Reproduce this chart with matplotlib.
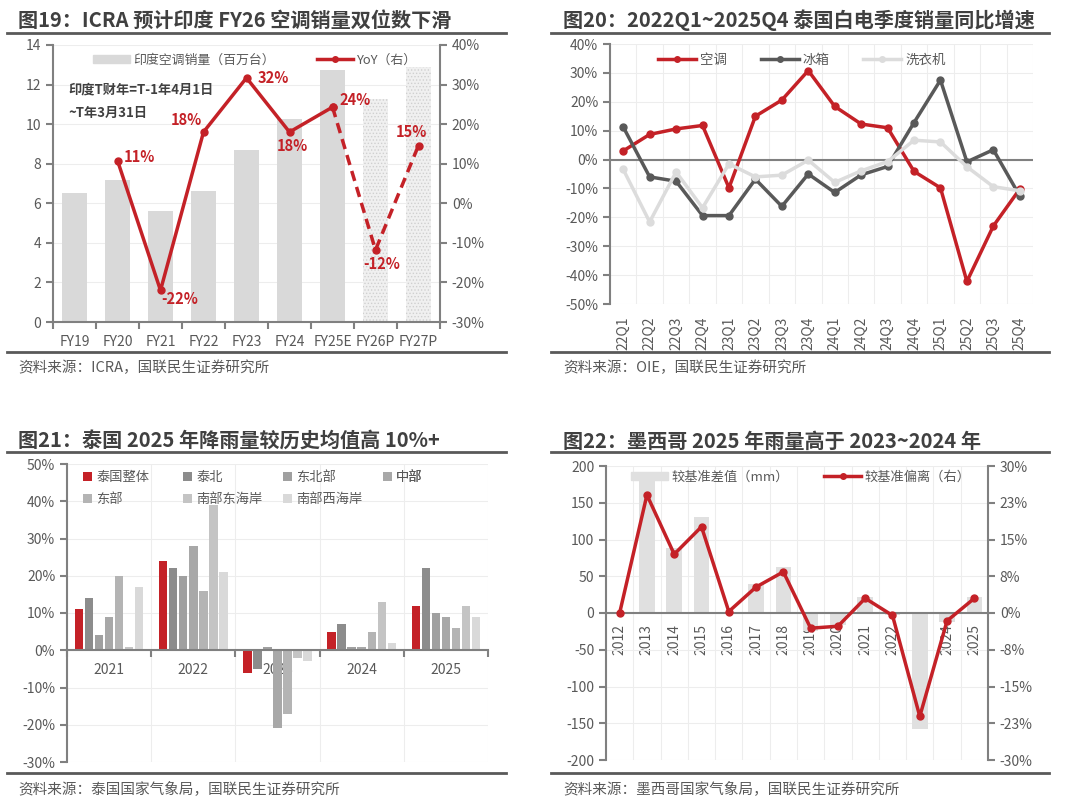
import numpy as np
import matplotlib
matplotlib.use('Agg')
import matplotlib.pyplot as plt
from matplotlib.lines import Line2D
from matplotlib.patches import Patch
from matplotlib.ticker import FuncFormatter

plt.rcParams['font.family'] = ['Noto Sans CJK SC', 'DejaVu Sans']
plt.rcParams['axes.unicode_minus'] = False
plt.rcParams['hatch.linewidth'] = 0.6

W, H = 1080, 806
RED = '#C42127'
TXT = '#595959'
AXC = '#808080'
GRID = '#EDEDED'
TITLE = '#404040'

# 图19 data
fy = ['FY19', 'FY20', 'FY21', 'FY22', 'FY23', 'FY24', 'FY25E', 'FY26P', 'FY27P']
india_sales = [6.5, 7.2, 5.6, 6.6, 8.7, 10.25, 12.75, 11.25, 12.9]
india_yoy = [np.nan, 10.8, -22.0, 18.0, 31.7, 18.0, 24.3, -11.8, 14.6]

# 图20 data
quarters = ['22Q1', '22Q2', '22Q3', '22Q4', '23Q1', '23Q2', '23Q3', '23Q4',
            '24Q1', '24Q2', '24Q3', '24Q4', '25Q1', '25Q2', '25Q3', '25Q4']
ac_yoy = [3.0, 8.7, 10.6, 11.8, -9.8, 15.0, 20.6, 30.8,
          18.4, 12.3, 11.0, -4.1, -9.8, -42.2, -23.0, -10.2]
fridge_yoy = [11.3, -6.0, -7.5, -19.4, -19.4, -6.8, -16.2, -5.0,
              -11.4, -5.3, -2.4, 12.8, 27.5, -0.8, 3.4, -12.6]
washer_yoy = [-3.4, -21.6, -4.3, -16.7, -1.5, -6.0, -5.4, -0.2,
              -7.9, -3.9, -0.7, 6.7, 6.1, -2.5, -9.4, -10.8]

# 图21 data
rain_years = ['2021', '2022', '2023', '2024', '2025']
regions = ['泰国整体', '泰北', '东北部', '中部', '东部', '南部东海岸', '南部西海岸']
rain_dev = {
    '泰国整体': [11, 24, -6, 5, 12],
    '泰北': [14, 22, -5, 7, 22],
    '东北部': [4, 20, 1, 1, 10],
    '中部': [9, 28, -21, 1, 9],
    '东部': [20, 16, -17, 5, 6],
    '南部东海岸': [1, 39, -2, 13, 12],
    '南部西海岸': [17, 21, -3, 2, 9],
}
region_colors = ['#C42127', '#8C8C8C', '#A0A0A0', '#A8A8A8', '#B4B4B4', '#C4C4C4', '#D9D9D9']

# 图22 data
mx_years = [str(y) for y in range(2012, 2026)]
mx_diff_mm = [0, 179, 88, 130, 1, 39, 62, -24, -16, 22, -3, -158, -12, 22]
mx_dev_pct = [0.0, 24.1, 12.0, 17.6, 0.3, 5.3, 8.4, -3.1, -2.7, 3.0, -0.5, -21.1, -1.6, 3.0]


def box(l, t, r, b):
    return [l / W, 1 - b / H, (r - l) / W, (b - t) / H]


def hline(fig, x0, x1, y):
    fig.add_artist(Line2D([x0 / W, x1 / W], [1 - y / H, 1 - y / H],
                          transform=fig.transFigure, color='#595959', lw=2))


def header(fig, x, y, title, src, y_src, x0, x1, y_rule, y_rule2):
    fig.text(x / W, 1 - y / H, title, fontsize=14.5, fontweight='bold',
             color=TITLE, va='center', ha='left')
    hline(fig, x0, x1, y_rule)
    hline(fig, x0, x1, y_rule2)
    fig.text(x / W, 1 - y_src / H, src, fontsize=10.5, color=TXT,
             va='center', ha='left')


def style_axis(ax):
    for s in ['top', 'right']:
        ax.spines[s].set_visible(False)
    ax.spines['left'].set_color(AXC)
    ax.spines['left'].set_linewidth(1.5)
    ax.spines['bottom'].set_color(AXC)
    ax.spines['bottom'].set_linewidth(1.5)
    ax.tick_params(colors=AXC, labelcolor=TXT, labelsize=10)
    ax.set_axisbelow(True)


pct = FuncFormatter(lambda v, p: '%d%%' % v)


def pct_round(v, p):
    r = int(abs(v) + 0.5)
    return ('-' if v < 0 and r != 0 else '') + '%d%%' % r


fig = plt.figure(figsize=(W / 100, H / 100), dpi=100)

# ---------------- 图19 ----------------
header(fig, 18, 20, '图19：ICRA 预计印度 FY26 空调销量双位数下滑',
       '资料来源：ICRA，国联民生证券研究所', 368, 7, 506, 33, 352)
ax = fig.add_axes(box(53, 45, 440, 322))
style_axis(ax)
x = np.arange(len(fy))
bars = ax.bar(x, india_sales, width=0.58, color='#D9D9D9', zorder=2)
for b in bars[7:]:
    b.set_facecolor('#F0F0F0')
    b.set_hatch('.....')
    b.set_edgecolor('#D0D0D0')
    b.set_linewidth(0)
ax.set_xlim(-0.5, len(fy) - 0.5)
ax.set_ylim(0, 14)
ax.set_yticks(range(0, 15, 2))
ax.set_xticks(x)
ax.set_xticklabels(fy)
ax.set_xticks(np.arange(-0.5, len(fy), 1), minor=True)
ax.tick_params(axis='x', which='major', length=0, pad=9)
ax.tick_params(axis='x', which='minor', length=5, width=1.5, color=AXC)
ax.tick_params(axis='y', length=5, width=1.5)
ax.yaxis.grid(True, color=GRID, lw=0.8)

ax2 = ax.twinx()
for s in ['top', 'left', 'bottom']:
    ax2.spines[s].set_visible(False)
ax2.spines['right'].set_color(AXC)
ax2.spines['right'].set_linewidth(1.5)
ax2.set_ylim(-30, 40)
ax2.set_yticks(range(-30, 41, 10))
ax2.yaxis.set_major_formatter(pct)
ax2.tick_params(colors=AXC, labelcolor=TXT, labelsize=10, length=5, width=1.5)
ax2.plot(x[1:7], india_yoy[1:7], color=RED, lw=2.5, marker='o', ms=5, zorder=3)
ax2.plot(x[6:], india_yoy[6:], color=RED, lw=2.5, ls=(0, (3, 1.8)),
         marker='o', ms=5, zorder=3)
offsets = [None, (22, 4), (19, -9), (-17, 12), (27, 0), (3, -14), (23, 7), (6, -14), (-7, 14)]
for i in range(1, len(fy)):
    ax2.annotate('%.0f%%' % india_yoy[i], (x[i], india_yoy[i]), xytext=offsets[i],
                 textcoords='offset pixels', ha='center', va='center',
                 color=RED, fontsize=10.5, fontweight='bold')
ax2.text(0.039, 0.838, '印度T财年=T-1年4月1日', transform=ax2.transAxes,
         fontsize=9.5, fontweight='bold', color=TITLE, va='center')
ax2.text(0.039, 0.755, '~T年3月31日', transform=ax2.transAxes,
         fontsize=9.5, fontweight='bold', color=TITLE, va='center')
ax2.legend(handles=[Patch(color='#D9D9D9'),
                    Line2D([], [], color=RED, lw=2.5, marker='o', ms=4)],
           labels=['印度空调销量（百万台）', 'YoY（右）'], ncol=2, loc='center',
           bbox_to_anchor=(0.523, 0.946), frameon=False, fontsize=9.3,
           labelcolor=TXT, columnspacing=3.25, handlelength=2.8,
           handleheight=0.55, handletextpad=0.3)

# ---------------- 图20 ----------------
header(fig, 563, 20, '图20：2022Q1~2025Q4 泰国白电季度销量同比增速',
       '资料来源：OIE，国联民生证券研究所', 368, 551, 1049, 33, 352)
ax = fig.add_axes(box(610, 44, 1033, 304))
style_axis(ax)
ax.spines['bottom'].set_visible(False)
q = np.arange(len(quarters))
ax.set_xlim(-0.5, len(quarters) - 0.5)
ax.set_ylim(-50, 40)
ax.set_yticks(range(-50, 41, 10))
ax.yaxis.set_major_formatter(pct)
ax.set_xticks(q)
ax.set_xticklabels(quarters, rotation=90)
ax.set_xticks(np.arange(-0.5, len(quarters), 1), minor=True)
ax.tick_params(axis='x', which='both', length=0, pad=9)
ax.tick_params(axis='y', length=5, width=1.5)
ax.yaxis.grid(True, color=GRID, lw=0.8)
ax.xaxis.grid(True, which='minor', color=GRID, lw=0.8)
ax.axhline(0, color=AXC, lw=1.5, zorder=1.5)
ax.plot(q, ac_yoy, color=RED, lw=2.5, marker='o', ms=5, label='空调')
ax.plot(q, fridge_yoy, color='#595959', lw=2.5, marker='o', ms=5, label='冰箱')
ax.plot(q, washer_yoy, color='#DCDCDC', lw=2.5, marker='o', ms=5, label='洗衣机')
ax.legend(ncol=3, loc='center', bbox_to_anchor=(0.454, 0.938), frameon=False,
          fontsize=9.7, labelcolor=TXT, columnspacing=2.5, handlelength=2.8,
          handletextpad=0.3, markerscale=0.8)

# ---------------- 图21 ----------------
header(fig, 18, 441, '图21：泰国 2025 年降雨量较历史均值高 10%+',
       '资料来源：泰国国家气象局，国联民生证券研究所', 789, 7, 506, 452, 773)
ax = fig.add_axes(box(67, 464, 488, 762))
style_axis(ax)
g = np.arange(len(rain_years))
step = 0.119
handles = []
for k, name in enumerate(regions):
    h = ax.bar(g + (k - 3) * step, rain_dev[name], width=0.1,
               color=region_colors[k], zorder=2, label=name)
    handles.append(h)
ax.set_xlim(-0.5, len(rain_years) - 0.5)
ax.set_ylim(-30, 50)
ax.set_yticks(range(-30, 51, 10))
ax.yaxis.set_major_formatter(pct)
ax.spines['bottom'].set_position(('data', 0))
ax.spines['bottom'].set_zorder(3)
ax.set_xticks(g)
ax.set_xticklabels(rain_years)
ax.set_xticks(np.arange(-0.5, len(rain_years), 1), minor=True)
ax.tick_params(axis='x', which='major', length=0, pad=9)
ax.tick_params(axis='x', which='minor', length=5, width=1.5, color=AXC)
ax.tick_params(axis='y', length=5, width=1.5)
ax.yaxis.grid(True, color=GRID, lw=0.8)
ax.xaxis.grid(True, which='minor', color=GRID, lw=0.8)
for c in range(4):
    leg = ax.legend(handles[c::4], regions[c::4], loc='upper left',
                    bbox_to_anchor=(0.038 + c * 0.2375, 0.975), frameon=False,
                    fontsize=9.5, labelcolor=TXT, handlelength=0.7,
                    handleheight=0.7, handletextpad=0.3, labelspacing=0.65,
                    borderpad=0, borderaxespad=0)
    ax.add_artist(leg)

# ---------------- 图22 ----------------
header(fig, 563, 441, '图22：墨西哥 2025 年雨量高于 2023~2024 年',
       '资料来源：墨西哥国家气象局，国联民生证券研究所', 789, 551, 1049, 452, 773)
ax = fig.add_axes(box(606, 466, 988, 760))
style_axis(ax)
yx = np.arange(len(mx_years))
ax.bar(yx, mx_diff_mm, width=0.57, color='#E0E0E0', zorder=2)
ax.set_xlim(-0.5, len(mx_years) - 0.5)
ax.set_ylim(-200, 200)
ax.set_yticks(range(-200, 201, 50))
ax.spines['bottom'].set_position(('data', 0))
ax.spines['bottom'].set_zorder(3)
ax.set_xticks(yx)
ax.set_xticklabels(mx_years, rotation=90)
ax.set_xticks(np.arange(-0.5, len(mx_years), 1), minor=True)
ax.tick_params(axis='x', which='major', length=0, pad=8)
ax.tick_params(axis='x', which='minor', length=0)
ax.tick_params(axis='y', length=5, width=1.5)
ax.yaxis.grid(True, color=GRID, lw=0.8)
ax.xaxis.grid(True, which='minor', color=GRID, lw=0.8)

ax2 = ax.twinx()
for s in ['top', 'left', 'bottom']:
    ax2.spines[s].set_visible(False)
ax2.spines['right'].set_color(AXC)
ax2.spines['right'].set_linewidth(1.5)
ax2.set_ylim(-30, 30)
ax2.set_yticks(np.arange(-30, 30.1, 7.5))
ax2.yaxis.set_major_formatter(FuncFormatter(pct_round))
ax2.tick_params(colors=AXC, labelcolor=TXT, labelsize=10, length=5, width=1.5)
ax2.plot(yx, mx_dev_pct, color=RED, lw=2.5, marker='o', ms=5, zorder=3)
ax2.legend(handles=[Patch(color='#E0E0E0'),
                    Line2D([], [], color=RED, lw=2.5, marker='o', ms=4)],
           labels=['较基准差值（mm）', '较基准偏离（右）'], ncol=2, loc='center',
           bbox_to_anchor=(0.51, 0.963), frameon=False, fontsize=9.5,
           labelcolor=TXT, columnspacing=2.65, handlelength=2.8,
           handleheight=0.6, handletextpad=0.3)

fig.savefig('out.png', dpi=100)
